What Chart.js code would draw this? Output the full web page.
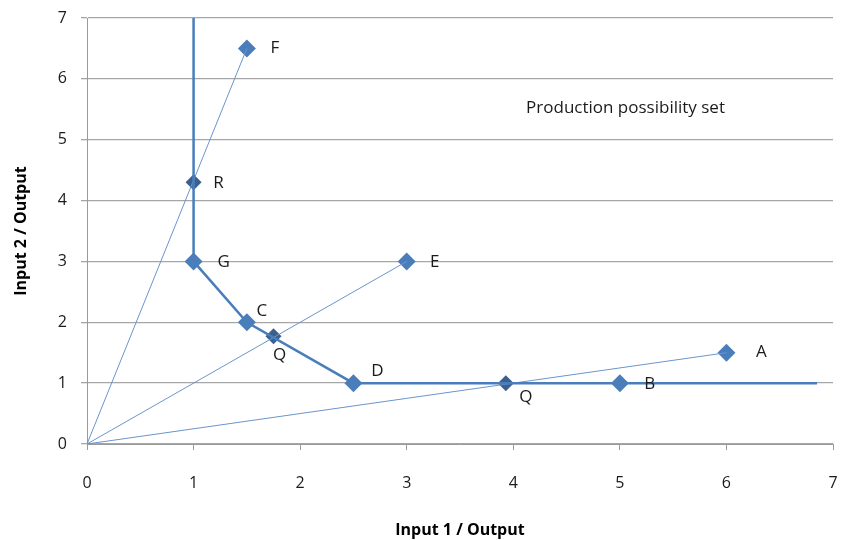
<!DOCTYPE html>
<html>
<head>
<meta charset="utf-8">
<script src="https://cdn.jsdelivr.net/npm/chart.js@4"></script>
<style>
  html, body { margin: 0; padding: 0; background: #fff; }
  #wrap { width: 842px; height: 540px; }
</style>
</head>
<body>
<div id="wrap"><canvas id="myChart" width="842" height="540"></canvas></div>
<script>
// isoquant (efficient frontier)
const isoX = [1, 1, 1.5, 2.5, 6.85];
const isoY = [7, 3, 2, 1, 1];

// observed units
const unitNames = ['A', 'B', 'C', 'D', 'E', 'F', 'G'];
const unitX = [6, 5, 1.5, 2.5, 3, 1.5, 1];
const unitY = [1.5, 1, 2, 1, 3, 6.5, 3];

// projections on the frontier
const projNames = ['Q', 'Q', 'R'];
const projX = [1.75, 3.93, 1];
const projY = [1.77, 1, 4.3];

// rays from origin
const rayEnds = ['F', 'E', 'A'];

const xTicks = [0, 1, 2, 3, 4, 5, 6, 7];
const yTicks = [0, 1, 2, 3, 4, 5, 6, 7];

const blue = '#4a7ebb';
const darkBlue = '#3a6090';
const fontFam = "'Open Sans', 'Liberation Sans', sans-serif";

function pts(xs, ys) {
  return xs.map((x, i) => ({ x: x, y: ys[i] }));
}

const rays = rayEnds.map(n => {
  const i = unitNames.indexOf(n);
  return {
    data: [{ x: 0, y: 0 }, { x: unitX[i], y: unitY[i] }],
    showLine: true,
    borderColor: '#6a95cc',
    borderWidth: 1,
    pointRadius: 0
  };
});

// label offsets in px (dx, dy)
const unitOff = {
  A: [35, -1], B: [30, 1], C: [15, -11], D: [24, -12],
  E: [28, 1], F: [28, 0], G: [30, 1]
};
const projOff = [[6, 19], [20, 14], [25, 1]];

const labelPlugin = {
  id: 'pointLabels',
  afterDatasetsDraw(chart) {
    const c = chart.ctx;
    const xs = chart.scales.x, ys = chart.scales.y;
    c.save();
    c.font = '17px ' + fontFam;
    c.fillStyle = '#1a1a1a';
    c.textAlign = 'center';
    c.textBaseline = 'middle';
    unitNames.forEach((n, i) => {
      const o = unitOff[n];
      c.fillText(n, xs.getPixelForValue(unitX[i]) + o[0], ys.getPixelForValue(unitY[i]) + o[1]);
    });
    projNames.forEach((n, i) => {
      const o = projOff[i];
      c.fillText(n, xs.getPixelForValue(projX[i]) + o[0], ys.getPixelForValue(projY[i]) + o[1]);
    });
    c.textAlign = 'left';
    c.fillText('Production possibility set', xs.getPixelForValue(4.12), ys.getPixelForValue(5.52));
    c.restore();
  }
};

window.onload = function() {
  const ctx = document.getElementById('myChart').getContext('2d');
  new Chart(ctx, {
    type: 'scatter',
    data: {
      datasets: [
        {
          data: pts(isoX, isoY),
          showLine: true,
          borderColor: blue,
          borderWidth: 2.5,
          pointRadius: 0
        },
        ...rays,
        {
          data: pts(unitX, unitY),
          pointStyle: 'rectRot',
          pointRadius: 9,
          backgroundColor: blue,
          borderColor: blue,
          borderWidth: 0
        },
        {
          data: pts(projX, projY),
          pointStyle: 'rectRot',
          pointRadius: 8,
          backgroundColor: darkBlue,
          borderColor: darkBlue,
          borderWidth: 0
        }
      ]
    },
    options: {
      responsive: false,
      animation: false,
      layout: { padding: { top: 18, right: 6, left: 0, bottom: 0 } },
      plugins: {
        legend: { display: false },
        tooltip: { enabled: false }
      },
      scales: {
        x: {
          type: 'linear',
          min: 0, max: 7,
          afterBuildTicks: s => { s.ticks = xTicks.map(v => ({ value: v })); },
          afterFit: s => { s.height = 96; s.paddingLeft = 0; s.paddingRight = 0; },
          grid: { drawOnChartArea: false, color: '#9a9a9a', tickLength: 6 },
          border: { color: '#9a9a9a' },
          ticks: { padding: 24, color: '#1a1a1a', font: { family: fontFam, size: 16 } },
          title: {
            display: true, text: 'Input 1 / Output', color: '#000',
            font: { family: fontFam, size: 16, weight: 'bold' },
            padding: { top: 22, bottom: 0 }
          }
        },
        y: {
          type: 'linear',
          min: 0, max: 7,
          afterBuildTicks: s => { s.ticks = yTicks.map(v => ({ value: v })); },
          afterFit: s => { s.width = 87; s.paddingTop = 0; s.paddingBottom = 0; },
          grid: { color: '#a6a6a6', tickLength: 6, lineWidth: 1.3 },
          border: { color: '#9a9a9a' },
          ticks: { padding: 14, color: '#1a1a1a', font: { family: fontFam, size: 16 } },
          title: {
            display: true, text: 'Input 2 / Output', color: '#000',
            font: { family: fontFam, size: 16, weight: 'bold' },
            padding: { top: 12, bottom: 0 }
          }
        }
      }
    },
    plugins: [labelPlugin]
  });
};
</script>
</body>
</html>
